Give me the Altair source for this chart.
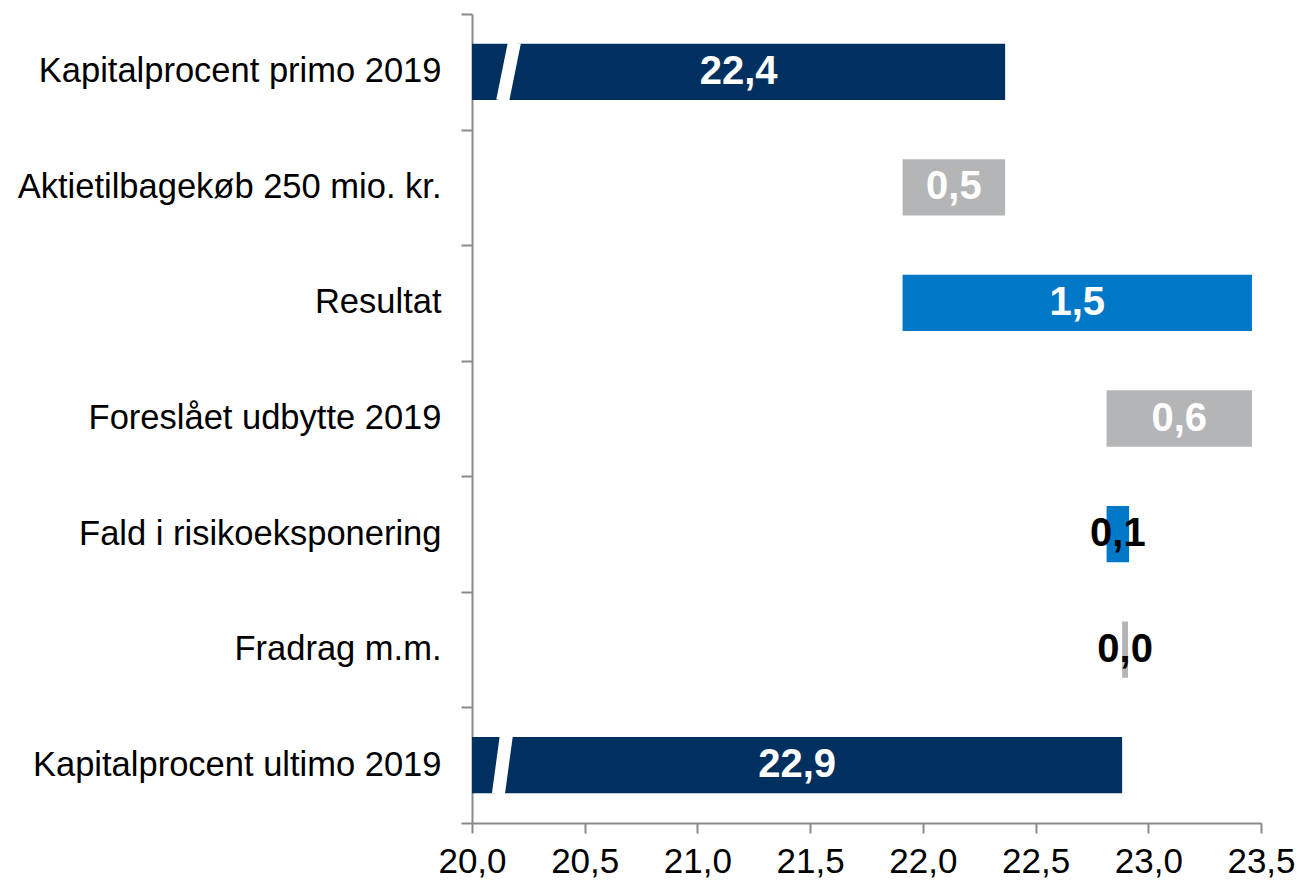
import altair as alt
import pandas as pd

categories = [
    "Kapitalprocent primo 2019",
    "Aktietilbagekøb 250 mio. kr.",
    "Resultat",
    "Foreslået udbytte 2019",
    "Fald i risikoeksponering",
    "Fradrag m.m.",
    "Kapitalprocent ultimo 2019",
]
starts = [20.0, 21.91, 21.91, 22.815, 22.815, 22.884, 20.0]
ends = [22.365, 22.365, 23.46, 23.46, 22.915, 22.91, 22.884]
labels = ["22,4", "0,5", "1,5", "0,6", "0,1", "0,0", "22,9"]
kinds = ["Kapital", "Negativ", "Positiv", "Negativ", "Positiv", "Negativ", "Kapital"]
label_colors = ["white", "white", "white", "white", "black", "black", "white"]

# axis-break slashes on the two capital bars (x at top / bottom of the bar)
break_cats = ["Kapitalprocent primo 2019", "Kapitalprocent ultimo 2019"]
break_top = [20.188, 20.152]
break_bottom = [20.136, 20.117]

x_ticks = [20.0, 20.5, 21.0, 21.5, 22.0, 22.5, 23.0, 23.5]

df = pd.DataFrame({
    "cat": categories, "start": starts, "end": ends,
    "label": labels, "kind": kinds, "lcol": label_colors,
})
df["mid"] = (df["start"] + df["end"]) / 2
bdf = pd.DataFrame({"cat": break_cats, "top": break_top, "bottom": break_bottom})

FONT = "Liberation Sans"
AX = "#898989"

y_scale = alt.Scale(paddingInner=0, paddingOuter=0)
y_enc = alt.Y(
    "cat:N", sort=categories, title=None, scale=y_scale,
    axis=alt.Axis(
        tickBand="extent", labelFont=FONT, labelFontSize=34.5, labelColor="black",
        labelPadding=20, tickSize=11, tickColor=AX, tickWidth=2,
        domainColor=AX, domainWidth=2, labelLimit=600,
    ),
)
x_scale = alt.Scale(domain=[20.0, 23.5], nice=False, zero=False)
x_axis = alt.Axis(
    values=x_ticks, labelExpr="replace(format(datum.value, '.1f'), '.', ',')",
    labelFont=FONT, labelFontSize=35, labelColor="black", labelPadding=11,
    tickSize=10, tickColor=AX, tickWidth=2, domainColor=AX, domainWidth=2,
    grid=False, title=None, labelFlush=False,
)

bars = alt.Chart(df).mark_bar(height={"band": 0.487}).encode(
    y=y_enc,
    x=alt.X("start:Q", scale=x_scale, axis=x_axis),
    x2="end:Q",
    color=alt.Color(
        "kind:N", legend=None,
        scale=alt.Scale(domain=["Kapital", "Negativ", "Positiv"],
                        range=["#003060", "#B4B5B6", "#0078C8"]),
    ),
)

breaks = alt.Chart(bdf).mark_rule(
    color="white", strokeWidth=13, yOffset=-29, y2Offset=29
).encode(
    y=alt.Y("cat:N", sort=categories, scale=y_scale),
    y2="cat:N",
    x=alt.X("top:Q", scale=x_scale),
    x2="bottom:Q",
)

texts = alt.Chart(df).mark_text(
    font=FONT, fontSize=40, fontWeight="bold", baseline="middle", align="center"
).encode(
    y=alt.Y("cat:N", sort=categories, scale=y_scale),
    x=alt.X("mid:Q", scale=x_scale),
    text="label:N",
    color=alt.Color("lcol:N", scale=None),
)

chart = alt.layer(bars, breaks, texts).properties(
    width=789, height=809,
    autosize=alt.AutoSizeParams(type="none"),
    padding={"left": 464, "top": 6, "right": 34, "bottom": 55},
).configure_view(stroke=None)

chart.save("out.html", embed_options={"renderer": "svg", "actions": False})
